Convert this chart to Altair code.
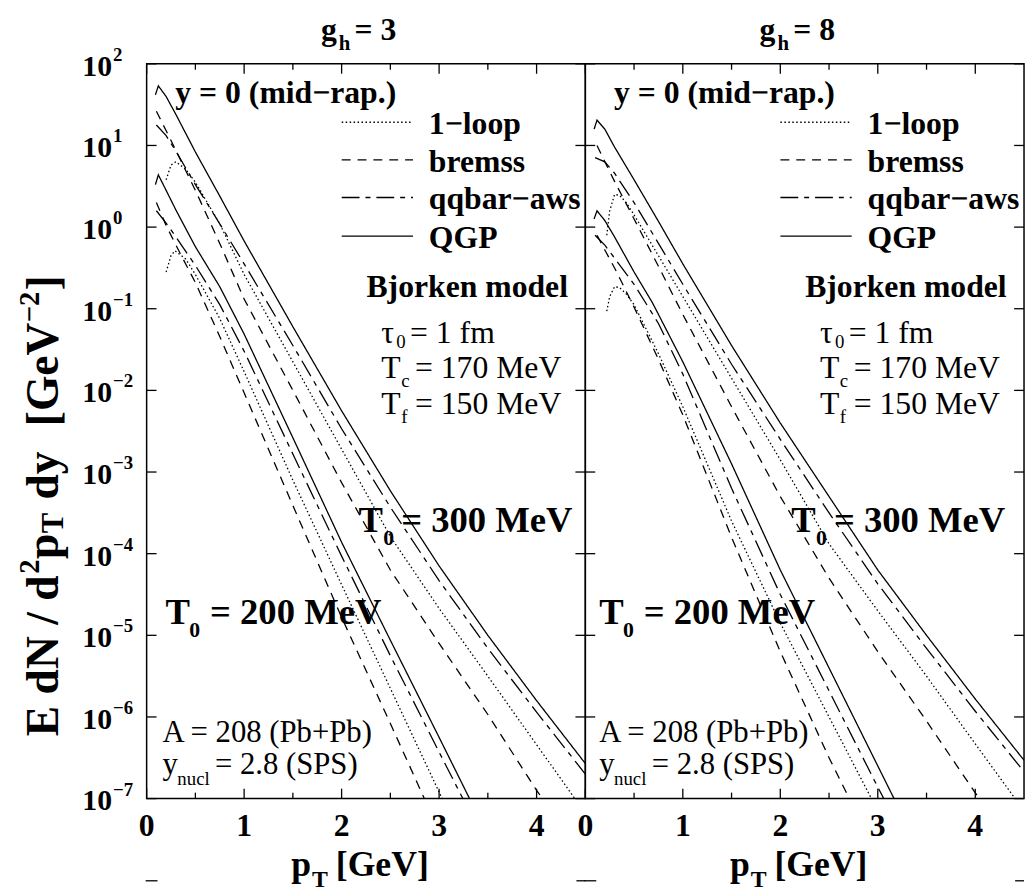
import altair as alt
import pandas as pd

FONT = "Liberation Serif"

# ---------------- data ----------------
# pT in GeV, lg = log10 of E dN/d^2pT dy in GeV^-2
# panel g_h = 3
pt_qgp_300_g3 = [0.09, 0.12, 0.2, 0.3, 0.5, 0.75, 1.0, 1.5, 2.0, 2.5, 3.0, 3.5, 4.0, 4.5]
lg_qgp_300_g3 = [1.62, 1.73, 1.60, 1.38, 0.92, 0.38, -0.17, -1.22, -2.25, -3.23, -4.15, -5.00, -5.80, -6.57]
pt_aws_300_g3 = [0.1, 0.2, 0.3, 0.5, 0.75, 1.0, 1.5, 2.0, 2.5, 3.0, 3.5, 4.0, 4.5]
lg_aws_300_g3 = [1.25, 1.12, 0.93, 0.52, 0.04, -0.45, -1.45, -2.47, -3.43, -4.33, -5.16, -5.94, -6.70]
pt_brem_300_g3 = [0.1, 0.2, 0.3, 0.5, 0.75, 1.0, 1.5, 2.0, 2.5, 3.0, 3.5, 4.0, 4.5]
lg_brem_300_g3 = [1.42, 1.18, 0.94, 0.45, -0.20, -0.88, -2.00, -3.13, -4.20, -5.10, -5.97, -6.90, -7.70]
pt_loop_300_g3 = [0.2, 0.25, 0.3, 0.4, 0.5, 0.75, 1.0, 1.5, 2.0, 2.5, 3.0, 3.5, 4.0, 4.5]
lg_loop_300_g3 = [0.58, 0.76, 0.80, 0.71, 0.55, 0.04, -0.58, -1.65, -2.72, -3.79, -4.67, -5.50, -6.34, -7.18]

pt_qgp_200_g3 = [0.09, 0.12, 0.2, 0.3, 0.5, 0.75, 1.0, 1.5, 2.0, 2.5, 3.0, 3.5]
lg_qgp_200_g3 = [0.52, 0.64, 0.45, 0.21, -0.24, -0.73, -1.31, -2.58, -3.86, -5.06, -6.25, -7.45]
pt_aws_200_g3 = [0.1, 0.2, 0.3, 0.5, 0.75, 1.0, 1.5, 2.0, 2.5, 3.0, 3.5]
lg_aws_200_g3 = [0.20, 0.05, -0.12, -0.47, -0.95, -1.52, -2.78, -4.03, -5.25, -6.43, -7.60]
pt_brem_200_g3 = [0.1, 0.2, 0.3, 0.5, 0.75, 1.0, 1.5, 2.0, 2.5, 3.0]
lg_brem_200_g3 = [0.30, 0.02, -0.22, -0.68, -1.34, -2.03, -3.41, -4.78, -6.08, -7.40]
pt_loop_200_g3 = [0.2, 0.25, 0.29, 0.4, 0.5, 0.75, 1.0, 1.5, 2.0, 2.5, 3.0, 3.5]
lg_loop_200_g3 = [-0.55, -0.35, -0.29, -0.39, -0.58, -1.12, -1.77, -3.10, -4.38, -5.65, -6.92, -8.20]

# panel g_h = 8
pt_qgp_300_g8 = [0.09, 0.12, 0.2, 0.3, 0.5, 0.75, 1.0, 1.5, 2.0, 2.5, 3.0, 3.5, 4.0, 4.5]
lg_qgp_300_g8 = [1.20, 1.31, 1.20, 0.98, 0.58, 0.07, -0.45, -1.45, -2.40, -3.30, -4.20, -5.00, -5.78, -6.53]
pt_aws_300_g8 = [0.1, 0.2, 0.3, 0.5, 0.75, 1.0, 1.5, 2.0, 2.5, 3.0, 3.5, 4.0, 4.5]
lg_aws_300_g8 = [0.85, 0.80, 0.66, 0.30, -0.20, -0.70, -1.68, -2.60, -3.50, -4.37, -5.16, -5.93, -6.67]
pt_brem_300_g8 = [0.12, 0.2, 0.3, 0.5, 0.75, 1.0, 1.5, 2.0, 2.5, 3.0, 3.5, 4.0, 4.5]
lg_brem_300_g8 = [1.00, 0.80, 0.56, 0.10, -0.48, -1.07, -2.20, -3.30, -4.30, -5.20, -6.05, -6.93, -7.70]
pt_loop_300_g8 = [0.22, 0.25, 0.3, 0.35, 0.42, 0.5, 0.75, 1.0, 1.5, 2.0, 2.5, 3.0, 3.5, 4.0, 4.5]
lg_loop_300_g8 = [-0.10, 0.20, 0.40, 0.39, 0.30, 0.15, -0.35, -0.85, -1.85, -2.85, -3.88, -4.70, -5.50, -6.33, -7.15]

pt_qgp_200_g8 = [0.09, 0.12, 0.2, 0.3, 0.5, 0.69, 1.0, 1.5, 2.0, 2.5, 3.0, 3.5]
lg_qgp_200_g8 = [0.10, 0.20, 0.08, -0.12, -0.55, -0.93, -1.65, -2.90, -4.20, -5.40, -6.60, -7.80]
pt_aws_200_g8 = [0.1, 0.2, 0.3, 0.5, 0.75, 1.0, 1.5, 2.0, 2.5, 3.0, 3.5]
lg_aws_200_g8 = [-0.10, -0.22, -0.38, -0.70, -1.18, -1.80, -3.20, -4.50, -5.68, -6.86, -8.00]
pt_brem_200_g8 = [0.12, 0.2, 0.3, 0.5, 0.75, 1.0, 1.5, 2.0, 2.5, 3.0]
lg_brem_200_g8 = [-0.10, -0.28, -0.50, -0.98, -1.62, -2.30, -3.80, -5.20, -6.50, -7.70]
pt_loop_200_g8 = [0.22, 0.25, 0.3, 0.35, 0.42, 0.5, 0.75, 1.0, 1.5, 2.0, 2.5, 3.0]
lg_loop_200_g8 = [-1.03, -0.85, -0.73, -0.74, -0.82, -0.95, -1.55, -2.20, -3.60, -4.85, -6.00, -7.15]

PROCS = ["1\u2212loop", "bremss", "qqbar\u2212aws", "QGP"]
DASHES = [[1.5, 2.5], [9, 7], [18, 6, 5, 6], [1, 0]]

x_major = [0, 1, 2, 3, 4]
x_minor = [0.5, 1.5, 2.5, 3.5]
x_labels = ["0", "1", "2", "3", "4"]
y_decades = [1e2, 1e1, 1e0, 1e-1, 1e-2, 1e-3, 1e-4, 1e-5, 1e-6, 1e-7]
y_exponents = ["2", "1", "0", "\u22121", "\u22122", "\u22123", "\u22124", "\u22125", "\u22126", "\u22127"]

curves = [
    ("g3", "300", PROCS[3], pt_qgp_300_g3, lg_qgp_300_g3),
    ("g3", "300", PROCS[2], pt_aws_300_g3, lg_aws_300_g3),
    ("g3", "300", PROCS[1], pt_brem_300_g3, lg_brem_300_g3),
    ("g3", "300", PROCS[0], pt_loop_300_g3, lg_loop_300_g3),
    ("g3", "200", PROCS[3], pt_qgp_200_g3, lg_qgp_200_g3),
    ("g3", "200", PROCS[2], pt_aws_200_g3, lg_aws_200_g3),
    ("g3", "200", PROCS[1], pt_brem_200_g3, lg_brem_200_g3),
    ("g3", "200", PROCS[0], pt_loop_200_g3, lg_loop_200_g3),
    ("g8", "300", PROCS[3], pt_qgp_300_g8, lg_qgp_300_g8),
    ("g8", "300", PROCS[2], pt_aws_300_g8, lg_aws_300_g8),
    ("g8", "300", PROCS[1], pt_brem_300_g8, lg_brem_300_g8),
    ("g8", "300", PROCS[0], pt_loop_300_g8, lg_loop_300_g8),
    ("g8", "200", PROCS[3], pt_qgp_200_g8, lg_qgp_200_g8),
    ("g8", "200", PROCS[2], pt_aws_200_g8, lg_aws_200_g8),
    ("g8", "200", PROCS[1], pt_brem_200_g8, lg_brem_200_g8),
    ("g8", "200", PROCS[0], pt_loop_200_g8, lg_loop_200_g8),
]
rows = []
for panel_id, t0, proc, xs, ls in curves:
    for x, l in zip(xs, ls):
        rows.append({"panel": panel_id, "curve": f"{panel_id}-{t0}-{proc}",
                     "proc": proc, "pT": x, "val": 10.0 ** l})
df = pd.DataFrame(rows)

W, H = 443, 742
XS = alt.Scale(domain=[0, 4.5], nice=False, zero=False)
YS = alt.Scale(type="log", domain=[1e-7, 1e2], nice=False)
ONE = pd.DataFrame({"a": [0]})


def txt(s, x, y, size=31, bold=False, align="left", angle=0):
    return alt.Chart(ONE).mark_text(
        text=s, font=FONT, fontSize=size, fontWeight="bold" if bold else "normal",
        align=align, baseline="middle", angle=angle, color="black"
    ).encode(x=alt.value(x), y=alt.value(y))


def seg(x1, x2, y, dash=None, width=1.3, color="black"):
    kw = dict(color=color, strokeWidth=width)
    if dash is not None:
        kw["strokeDash"] = dash
    return alt.Chart(ONE).mark_rule(**kw).encode(
        x=alt.value(x1), x2=alt.value(x2), y=alt.value(y))


def make_panel(pid, g_text, left):
    d = df[df.panel == pid]
    layers = []
    lines = alt.Chart(d).mark_line(clip=True, color="black", strokeWidth=1.3).encode(
        x=alt.X("pT:Q", scale=XS, axis=None),
        y=alt.Y("val:Q", scale=YS, axis=None),
        strokeDash=alt.StrokeDash("proc:N", scale=alt.Scale(domain=PROCS, range=DASHES), legend=None),
        detail="curve:N",
        order="pT:Q",
    )
    layers.append(lines)

    # ticks (inward)
    xmaj = pd.DataFrame({"v": x_major})
    xmin = pd.DataFrame({"v": x_minor})
    for dd, ln in ((xmaj, 10), (xmin, 6)):
        layers.append(alt.Chart(dd).mark_rule(color="black", strokeWidth=1.3).encode(
            x=alt.X("v:Q", scale=XS, axis=None), y=alt.value(H), y2=alt.value(H - ln)))
        layers.append(alt.Chart(dd).mark_rule(color="black", strokeWidth=1.3).encode(
            x=alt.X("v:Q", scale=XS, axis=None), y=alt.value(0), y2=alt.value(ln)))
    ydf = pd.DataFrame({"v": y_decades, "e": y_exponents})
    layers.append(alt.Chart(ydf).mark_rule(color="black", strokeWidth=1.3).encode(
        y=alt.Y("v:Q", scale=YS, axis=None), x=alt.value(0), x2=alt.value(10)))
    layers.append(alt.Chart(ydf).mark_rule(color="black", strokeWidth=1.3).encode(
        y=alt.Y("v:Q", scale=YS, axis=None), x=alt.value(W), x2=alt.value(W - 10)))

    # x tick labels
    xl = pd.DataFrame({"v": x_major, "t": x_labels})
    layers.append(alt.Chart(xl).mark_text(font=FONT, fontSize=32, fontWeight="bold",
                                          baseline="middle", align="center").encode(
        x=alt.X("v:Q", scale=XS, axis=None), y=alt.value(770), text="t:N"))

    if left:
        layers.append(alt.Chart(ydf).mark_text(font=FONT, fontSize=30, fontWeight="bold",
                                               baseline="middle", align="right", dy=3).encode(
            y=alt.Y("v:Q", scale=YS, axis=None), x=alt.value(-35), text=alt.value("10")))
        layers.append(alt.Chart(ydf).mark_text(font=FONT, fontSize=19, fontWeight="bold",
                                               baseline="middle", align="left", dy=-9).encode(
            y=alt.Y("v:Q", scale=YS, axis=None), x=alt.value(-34), text="e:N"))
        # y-axis title (rotated pieces, reading upward)
        cx = -104
        layers += [
            txt("E dN / d", cx, 679, 46, True, "left", 270),
            txt("2", cx - 14, 515, 29, True, "left", 270),
            txt("p", cx, 500, 46, True, "left", 270),
            txt("T", cx + 11, 474, 31, True, "left", 270),
            txt("dy", cx, 440, 46, True, "left", 270),
            txt("[GeV", cx, 366, 46, True, "left", 270),
            txt("\u22122", cx - 14, 261, 29, True, "left", 270),
            txt("]", cx, 229, 46, True, "left", 270),
        ]
        # layout anchor (invisible, white)
        layers.append(seg(-138, -137, -50, color="white", width=1))

    # panel title g_h = ...
    layers += [
        txt("g", 176, -34, 32, True),
        txt("h", 194, -20, 21, True),
        txt("= " + g_text, 210, -34, 32, True),
    ]
    # x title
    layers += [
        txt("p", 146, 809, 36, True),
        txt("T", 167, 824, 24, True),
        txt("[GeV]", 191, 809, 36, True),
    ]
    # small marks under the axis
    layers.append(seg(-1, 11, 825, width=1.3))
    layers.append(seg(434, 443, 825, width=1.3))

    # annotations
    layers.append(txt("y = 0 (mid\u2212rap.)", 29, 30, 32, True))
    ly = [59, 97, 135, 174]
    for i, p in enumerate(PROCS):
        layers.append(seg(197, 269, ly[i], dash=DASHES[i]))
        layers.append(txt(p, 285, ly[i] + 2, 32, True))
    layers.append(txt("Bjorken model", 222, 225, 32, True))
    layers += [
        txt("\u03c4", 237, 272, 32),
        txt("0", 252, 281, 19),
        txt("= 1 fm", 266, 272, 32),
        txt("T", 237, 307, 32),
        txt("c", 257, 320, 19),
        txt("= 170 MeV", 271, 307, 32),
        txt("T", 237, 344, 32),
        txt("f", 257, 357, 19),
        txt("= 150 MeV", 271, 344, 32),
    ]
    t3x = 214 if left else 208
    t2x = 19 if left else 14
    ax = 16 if left else 14
    layers += [
        txt("T", t3x, 462, 37, True),
        txt("0", t3x + 25, 479, 22, True),
        txt("= 300 MeV", t3x + 43, 462, 37, True),
        txt("T", t2x, 555, 37, True),
        txt("0", t2x + 24, 572, 22, True),
        txt("= 200 MeV", t2x + 45, 555, 37, True),
        txt("A = 208 (Pb+Pb)", ax, 676, 31),
        txt("y", ax, 708, 31),
        txt("nucl", ax + 15, 722, 19),
        txt("= 2.8 (SPS)", ax + 53, 708, 31),
    ]
    return alt.layer(*layers).properties(width=W, height=H)


left_panel = make_panel("g3", "3", True)
right_panel = make_panel("g8", "8", False)

chart = alt.hconcat(left_panel, right_panel, spacing=0, bounds="flush").properties(
    padding=0
).configure_view(stroke="black", strokeWidth=1.5)

chart.save("out.html", embed_options={"renderer": "svg", "actions": False})
